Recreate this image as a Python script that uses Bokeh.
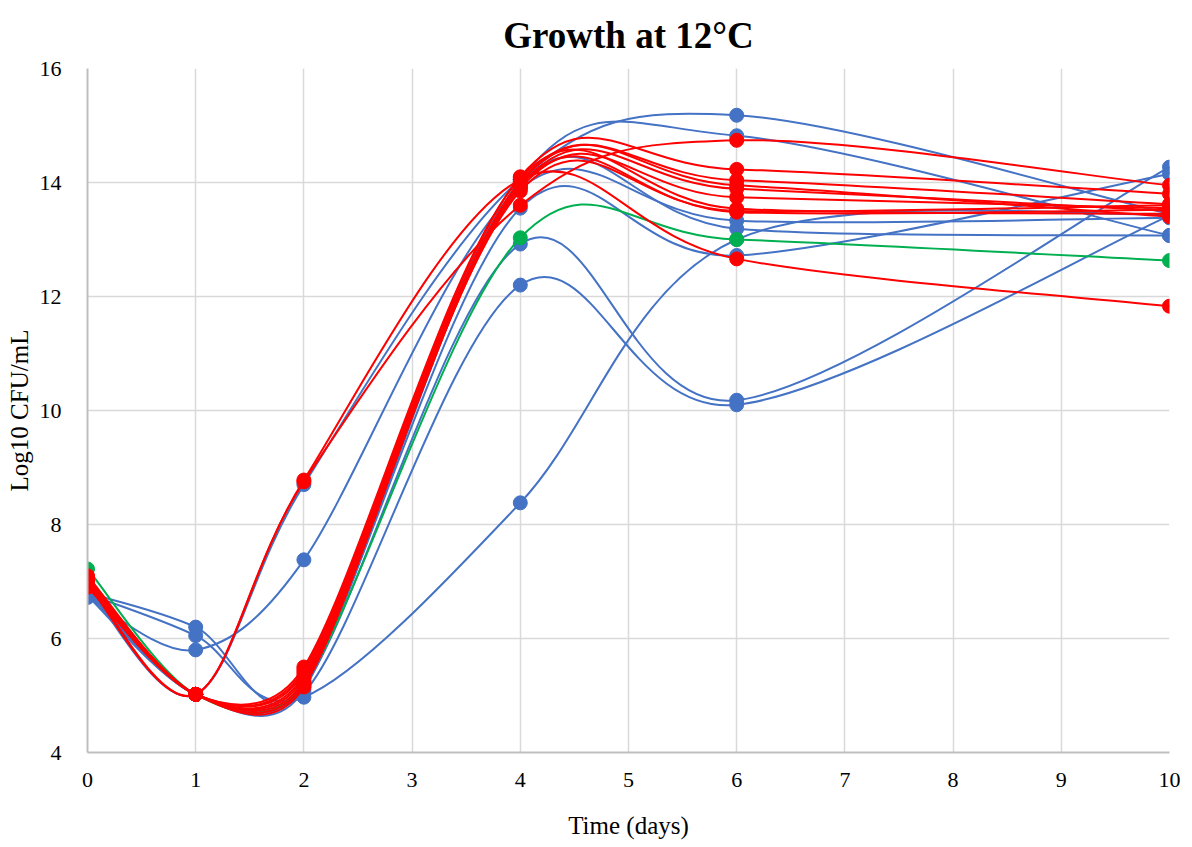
import numpy as np
from bokeh.plotting import figure
from bokeh.models import Range1d, FixedTicker
from bokeh.embed import file_html
from bokeh.resources import INLINE

# ---- data ----
days = [0, 1, 2, 4, 6, 10]
x_ticks = [0, 1, 2, 3, 4, 5, 6, 7, 8, 9, 10]
y_ticks = [4, 6, 8, 10, 12, 14, 16]

blue_1 = [6.78, 6.05, 4.97, 8.38, 13.00, 13.45]
blue_2 = [6.80, 6.20, 5.05, 12.20, 10.10, 13.42]
blue_3 = [6.85, 5.02, 5.15, 12.92, 10.18, 14.27]
blue_4 = [6.72, 5.80, 7.38, 13.90, 13.33, 13.38]
blue_5 = [6.90, 5.02, 8.70, 14.05, 15.18, 13.45]
blue_6 = [6.80, 5.02, 5.10, 14.05, 14.82, 13.07]
blue_7 = [6.75, 5.02, 5.20, 13.55, 12.72, 14.15]
blue_8 = [6.82, 5.02, 5.25, 14.00, 13.19, 13.07]

green_1 = [7.22, 5.02, 5.20, 13.03, 13.00, 12.63]

red_1 = [7.00, 5.02, 8.78, 14.05, 12.66, 11.83]
red_2 = [6.95, 5.02, 8.75, 13.60, 14.74, 13.95]
red_3 = [7.10, 5.02, 5.45, 14.10, 14.23, 13.80]
red_4 = [7.05, 5.02, 5.35, 14.00, 14.04, 13.62]
red_5 = [6.90, 5.02, 5.25, 13.95, 13.89, 13.50]
red_6 = [7.00, 5.02, 5.20, 13.90, 13.74, 13.55]
red_7 = [7.08, 5.02, 5.50, 14.08, 13.54, 13.45]
red_8 = [6.95, 5.02, 5.30, 13.85, 13.50, 13.60]
red_9 = [7.02, 5.02, 5.15, 14.02, 13.95, 13.40]
red_10 = [6.92, 5.02, 5.40, 13.95, 13.48, 13.52]

BLUE = "#4472C4"
RED = "#FF0000"
GREEN = "#00B050"

series = [(s, BLUE) for s in [blue_1, blue_2, blue_3, blue_4, blue_5, blue_6, blue_7, blue_8]]
series += [(green_1, GREEN)]
series += [(s, RED) for s in [red_1, red_2, red_3, red_4, red_5, red_6, red_7, red_8, red_9, red_10]]

# ---- layout ----
W, H = 1192, 847
BL, BR, BT, BB = 87, 23, 68, 95
X0, X1, Y0, Y1 = 0, 10, 4, 16
PX_X = (W - BL - BR) / (X1 - X0)
PX_Y = (H - BT - BB) / (Y1 - Y0)

SERIF = "Liberation Serif"

p = figure(width=W, height=H, output_backend="svg", toolbar_location=None,
           x_range=Range1d(X0, X1), y_range=Range1d(Y0, Y1),
           min_border_left=BL, min_border_right=BR, min_border_top=BT, min_border_bottom=BB,
           title="Growth at 12°C")
p.title.align = "center"
p.title.vertical_align = "top"
p.title.text_font = SERIF
p.title.text_font_size = "37px"
p.title.text_font_style = "bold"
p.title.text_color = "black"
p.title.standoff = 22

p.outline_line_color = None
p.background_fill_color = "white"
p.border_fill_color = "white"

p.xaxis.ticker = FixedTicker(ticks=x_ticks)
p.yaxis.ticker = FixedTicker(ticks=y_ticks)
for ax in (p.xaxis[0], p.yaxis[0]):
    ax.axis_line_color = "#bfbfbf"
    ax.axis_line_width = 2
    ax.major_tick_line_color = None
    ax.minor_tick_line_color = None
    ax.major_label_text_font = SERIF
    ax.major_label_text_font_size = "22px"
    ax.major_label_text_color = "black"
    ax.axis_label_text_font = SERIF
    ax.axis_label_text_font_size = "25px"
    ax.axis_label_text_font_style = "normal"
    ax.axis_label_text_color = "black"
p.xaxis.axis_label = "Time (days)"
p.yaxis.axis_label = "Log10 CFU/mL"
p.xaxis.major_label_standoff = 14
p.xaxis.axis_label_standoff = 22
p.yaxis.major_label_standoff = 20
p.yaxis.axis_label_standoff = 4

p.xgrid.grid_line_color = "#d9d9d9"
p.ygrid.grid_line_color = "#d9d9d9"
p.xgrid.grid_line_width = 1.5
p.ygrid.grid_line_width = 1.5


def smooth_segments(xs, ys):
    """Excel-like smoothed line: cubic Bezier control points computed in pixel space."""
    P = np.column_stack([np.asarray(xs, float) * PX_X, np.asarray(ys, float) * PX_Y])
    n = len(P)
    out = {k: [] for k in ("x0", "y0", "x1", "y1", "cx0", "cy0", "cx1", "cy1")}
    for i in range(n - 1):
        p0 = P[i - 1] if i > 0 else P[i]
        p1 = P[i]
        p2 = P[i + 1]
        p3 = P[i + 2] if i + 2 < n else P[i + 1]
        d02 = np.linalg.norm(p2 - p0)
        d12 = np.linalg.norm(p2 - p1)
        d13 = np.linalg.norm(p3 - p1)
        f0 = 1.0 / 6.0 if d02 / 6.0 < d12 / 2.0 else (d12 / 2.0) / d02
        f1 = 1.0 / 6.0 if d13 / 6.0 < d12 / 2.0 else (d12 / 2.0) / d13
        c1 = p1 + f0 * (p2 - p0)
        c2 = p2 - f1 * (p3 - p1)
        out["x0"].append(p1[0] / PX_X); out["y0"].append(p1[1] / PX_Y)
        out["x1"].append(p2[0] / PX_X); out["y1"].append(p2[1] / PX_Y)
        out["cx0"].append(c1[0] / PX_X); out["cy0"].append(c1[1] / PX_Y)
        out["cx1"].append(c2[0] / PX_X); out["cy1"].append(c2[1] / PX_Y)
    return out


for ys, col in series:
    seg = smooth_segments(days, ys)
    p.bezier(line_color=col, line_width=2, **seg)
    p.scatter(days, ys, size=14, marker="circle", fill_color=col, line_color=col)

open("out.html", "w").write(file_html(p, INLINE))
